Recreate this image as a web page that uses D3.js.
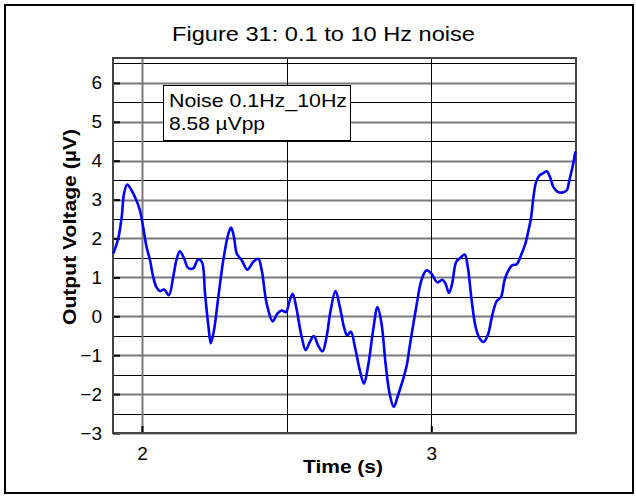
<!DOCTYPE html>
<html><head><meta charset="utf-8">
<script src="https://cdn.jsdelivr.net/npm/d3@7/dist/d3.min.js"></script>
<style>body{margin:0;background:#fff}svg{display:block;font-family:"Liberation Sans",Arial,sans-serif}</style>
</head><body>
<script>
const titleText = "Figure 31: 0.1 to 10 Hz noise";
const xLabel = "Time (s)";
const yLabel = "Output Voltage (µV)";
const legendLines = ["Noise 0.1Hz_10Hz", "8.58 µVpp"];
const xTicks = [2, 3];
const yTicks = [-3, -2, -1, 0, 1, 2, 3, 4, 5, 6];
const hGrid = d3.range(-3, 6.51, 0.5);
const vGrid = [2, 2.5, 3];
const timeS = [1.901,1.918,1.930,1.938,1.949,1.964,1.981,1.993,2.004,2.016,2.028,2.039,2.050,2.062,2.077,2.093,2.108,2.119,2.131,2.146,2.160,2.177,2.194,2.207,2.218,2.230,2.238,2.249,2.264,2.281,2.299,2.308,2.318,2.328,2.345,2.364,2.385,2.402,2.414,2.431,2.452,2.468,2.483,2.498,2.509,2.521,2.534,2.552,2.566,2.580,2.594,2.609,2.624,2.638,2.652,2.669,2.684,2.698,2.709,2.722,2.736,2.753,2.767,2.781,2.799,2.814,2.828,2.842,2.856,2.870,2.885,2.914,2.925,2.948,2.966,2.983,3.000,3.021,3.038,3.049,3.061,3.072,3.086,3.100,3.115,3.126,3.138,3.153,3.167,3.181,3.195,3.212,3.226,3.241,3.253,3.264,3.279,3.295,3.310,3.325,3.337,3.345,3.353,3.362,3.374,3.387,3.399,3.410,3.422,3.437,3.452,3.468,3.477,3.488,3.498];
const voltUV = [1.61,2.00,2.55,3.15,3.39,3.24,2.98,2.72,2.30,1.78,1.44,1.01,0.75,0.65,0.69,0.54,1.01,1.44,1.67,1.48,1.24,1.23,1.46,1.40,0.58,-0.27,-0.69,-0.36,0.50,1.44,2.13,2.28,2.04,1.61,1.44,1.20,1.40,1.48,1.18,0.33,-0.13,0.07,0.15,0.11,0.37,0.58,0.20,-0.53,-0.87,-0.66,-0.51,-0.75,-0.90,-0.53,0.15,0.65,0.24,-0.27,-0.49,-0.40,-0.79,-1.39,-1.73,-1.30,-0.36,0.24,-0.19,-1.22,-1.99,-2.33,-2.03,-1.30,-0.79,0.24,0.93,1.18,1.10,0.87,0.94,0.84,0.60,0.84,1.40,1.50,1.59,1.27,0.50,-0.27,-0.57,-0.66,-0.49,0.07,0.39,0.50,0.93,1.14,1.31,1.34,1.57,1.87,2.25,2.55,3.07,3.45,3.62,3.68,3.73,3.58,3.32,3.20,3.18,3.24,3.50,3.84,4.24];

const W = 636, H = 497;
const svg = d3.select("body").append("svg").attr("width", W).attr("height", H);
const L = 113, R = 576, T = 58, B = 433;
const x = d3.scaleLinear().domain([1.9, 3.5]).range([L, R]);
const y = d3.scaleLinear().domain([-3, 6.64]).range([B, T]);

// outer frame
svg.append("rect").attr("x", 5).attr("y", 5).attr("width", 628).attr("height", 488)
  .attr("fill", "none").attr("stroke", "#000").attr("stroke-width", 2);

// title
svg.append("text").attr("x", 323.5).attr("y", 41).attr("text-anchor", "middle")
  .attr("font-size", 21).attr("textLength", 303).attr("lengthAdjust", "spacingAndGlyphs").text(titleText);

const g = svg.append("g");
g.selectAll("line.h").data(hGrid).join("line")
  .attr("x1", L).attr("x2", R)
  .attr("y1", d => Math.round(y(d)) + 0.5).attr("y2", d => Math.round(y(d)) + 0.5)
  .attr("stroke", d => Number.isInteger(d) ? "#7a7a7a" : "#000")
  .attr("stroke-width", d => Number.isInteger(d) ? 2 : 1);
g.selectAll("line.v").data(vGrid).join("line")
  .attr("y1", T).attr("y2", B)
  .attr("x1", d => Math.round(x(d)) + 0.5).attr("x2", d => Math.round(x(d)) + 0.5)
  .attr("stroke", d => d === 2 ? "#7a7a7a" : "#000")
  .attr("stroke-width", d => d === 2 ? 2 : 1);

const yAxis = d3.axisLeft(y).tickValues(yTicks).tickSize(-7).tickPadding(11).tickFormat(d3.format("d"));
const ya = svg.append("g").attr("transform", `translate(${L},0)`).call(yAxis);
const xAxis = d3.axisBottom(x).tickValues(xTicks).tickSize(-7).tickPadding(14).tickFormat(d3.format("d"));
const xa = svg.append("g").attr("transform", `translate(0,${B})`).call(xAxis);
[ya, xa].forEach(a => {
  a.select(".domain").remove();
  a.selectAll(".tick line").attr("stroke", "#000").attr("stroke-width", 2);
  a.selectAll(".tick text").attr("font-size", 19).attr("font-family", "Liberation Sans, Arial, sans-serif").attr("fill", "#000");
});

svg.append("rect").attr("x", L).attr("y", T).attr("width", R - L).attr("height", B - T)
  .attr("fill", "none").attr("stroke", "#444").attr("stroke-width", 2);

// legend box
svg.append("rect").attr("x", 163.5).attr("y", 85.5).attr("width", 187).attr("height", 55)
  .attr("fill", "#fff").attr("stroke", "#000").attr("stroke-width", 1);
const legLen = [178, 96];
svg.selectAll("text.leg").data(legendLines).join("text")
  .attr("x", 169).attr("y", (d, i) => 107 + i * 23).attr("font-size", 18.5)
  .attr("textLength", (d, i) => legLen[i]).attr("lengthAdjust", "spacingAndGlyphs").text(d => d);

// curve
const line = d3.line().x((d, i) => x(timeS[i])).y(d => y(d)).curve(d3.curveCatmullRom.alpha(0.5));
svg.append("path").datum(voltUV).attr("d", line)
  .attr("fill", "none").attr("stroke", "#0000ff").attr("stroke-width", 2.6)
  .attr("stroke-linejoin", "round");

// axis labels
svg.append("text").attr("x", 343).attr("y", 473).attr("text-anchor", "middle")
  .attr("font-size", 19).attr("font-weight", "bold")
  .attr("textLength", 80).attr("lengthAdjust", "spacingAndGlyphs").text(xLabel);
svg.append("text").attr("transform", "translate(76,227) rotate(-90)").attr("text-anchor", "middle")
  .attr("font-size", 19).attr("font-weight", "bold")
  .attr("textLength", 196).attr("lengthAdjust", "spacingAndGlyphs").text(yLabel);
</script>
</body></html>
